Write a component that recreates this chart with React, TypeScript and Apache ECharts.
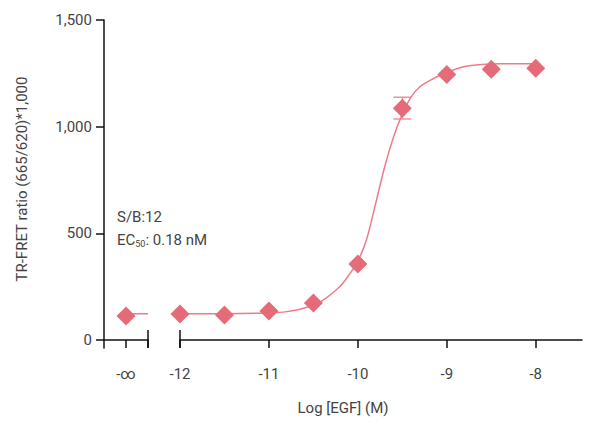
import React, { useEffect, useRef } from "react";
import * as echarts from "echarts";

// ---- data ----
const yTicks = [0, 500, 1000, 1500];
const xTicks = [-12, -11, -10, -9, -8];
const zeroDoseLabel = "-∞";
const zeroDosePos = 1; // position on the short broken segment (0..2)
const zeroDoseMean = 112;
const zeroDoseFit = 123;

const logConc = [-12, -11.5, -11, -10.5, -10, -9.5, -9, -8.5, -8];
const ratioMean = [122, 117, 136, 173, 356, 1086, 1244, 1269, 1274];

const errX = [-9.5];
const errLow = [1036];
const errHigh = [1138];

const fitX = [-12, -11.5, -11, -10.8, -10.6, -10.4, -10.2, -10.1, -10.0, -9.9, -9.8, -9.7, -9.6, -9.5, -9.4, -9.3, -9.2, -9.0, -8.8, -8.6, -8.4, -8.0];
const fitY = [123, 123, 127, 133, 150, 185, 252, 305, 370, 475, 640, 810, 950, 1060, 1140, 1188, 1215, 1254, 1282, 1292, 1295, 1295];

const FONT = "Roboto, 'DejaVu Sans', sans-serif";
const TXT = "#444";
const AX = "#111";
const MARK = "#e46c78";
const LINE = "#ec7d88";
const ERR = "#ee929b";

export default function App() {
  const ref = useRef<HTMLDivElement>(null);
  useEffect(() => {
    if (!ref.current) return;
    const chart = echarts.init(ref.current, undefined, { renderer: "svg" });
    const axisLine = { show: true, onZero: true, lineStyle: { color: AX, width: 1.5 } };
    const tickStyle = { color: AX, width: 1.5 };
    const labelStyle = { color: TXT, fontSize: 15, fontFamily: FONT };
    const breakLine = (x: number) => ({
      silent: true,
      symbol: "none",
      label: { show: false },
      lineStyle: { color: AX, width: 1.5, type: "solid" },
      data: [[{ coord: [x, -37.5] }, { coord: [x, 47] }]],
    });
    chart.setOption({
      animation: false,
      grid: [
        { left: 104, width: 44, top: 20, bottom: 82 },
        { left: 180, right: 18, top: 20, bottom: 82 },
      ],
      xAxis: [
        {
          gridIndex: 0, type: "value", min: 0, max: 2,
          axisLine, splitLine: { show: false },
          axisTick: { show: true, customValues: [zeroDosePos, 2], length: 8, lineStyle: tickStyle },
          axisLabel: { ...labelStyle, customValues: [zeroDosePos], formatter: () => zeroDoseLabel, margin: 18 },
        },
        {
          gridIndex: 1, type: "value", min: -12, max: -7.48,
          axisLine, splitLine: { show: false },
          axisTick: { show: true, customValues: xTicks, length: 8, lineStyle: tickStyle },
          axisLabel: { ...labelStyle, customValues: xTicks, formatter: (v: number) => String(v), margin: 18 },
        },
      ],
      yAxis: [
        {
          gridIndex: 0, type: "value", min: -37.5, max: 1500,
          axisLine, splitLine: { show: false },
          axisTick: { show: true, customValues: yTicks, length: 8, lineStyle: tickStyle },
          axisLabel: { ...labelStyle, customValues: yTicks, margin: 12, formatter: (v: number) => v.toLocaleString("en-US") },
        },
        { gridIndex: 1, type: "value", min: -37.5, max: 1500, show: false },
      ],
      graphic: [
        {
          type: "text", x: 22, y: 179, rotation: Math.PI / 2,
          style: { text: "TR-FRET ratio (665/620)*1,000", fill: TXT, fontSize: 15, fontFamily: FONT, align: "center", verticalAlign: "middle" },
        },
        {
          type: "text", x: 343, y: 408,
          style: { text: "Log [EGF] (M)", fill: TXT, fontSize: 15, fontFamily: FONT, align: "center", verticalAlign: "middle" },
        },
        {
          type: "text", x: 117, y: 217,
          style: { text: "S/B:12", fill: TXT, fontSize: 15, fontFamily: FONT, verticalAlign: "middle" },
        },
        {
          type: "text", x: 117, y: 240,
          style: {
            text: "EC{sub|50}: 0.18 nM", fill: TXT, fontSize: 15, fontFamily: FONT, verticalAlign: "middle",
            rich: { sub: { fontSize: 9, fill: TXT, fontFamily: FONT, padding: [8, 0, 0, 0] } },
          },
        },
      ],
      series: [
        {
          type: "line", xAxisIndex: 0, yAxisIndex: 0, showSymbol: false, silent: true,
          data: [[zeroDosePos, zeroDoseFit], [2, zeroDoseFit]],
          lineStyle: { color: LINE, width: 1.5 },
          markLine: breakLine(2),
        },
        {
          type: "line", xAxisIndex: 1, yAxisIndex: 1, showSymbol: false, silent: true, smooth: 0.3,
          data: fitX.map((x, i) => [x, fitY[i]]),
          lineStyle: { color: LINE, width: 1.5 },
          markLine: breakLine(-12),
        },
        {
          type: "custom", xAxisIndex: 1, yAxisIndex: 1, z: 3,
          data: errX.map((x, i) => [x, errLow[i], errHigh[i]]),
          renderItem: (params: any, api: any) => {
            const x = api.value(0);
            const lo = api.coord([x, api.value(1)]);
            const hi = api.coord([x, api.value(2)]);
            const hw = 9;
            const st = { stroke: ERR, lineWidth: 1.5 };
            return {
              type: "group",
              children: [
                { type: "line", shape: { x1: lo[0], y1: lo[1], x2: hi[0], y2: hi[1] }, style: st },
                { type: "line", shape: { x1: lo[0] - hw, y1: lo[1], x2: lo[0] + hw, y2: lo[1] }, style: st },
                { type: "line", shape: { x1: hi[0] - hw, y1: hi[1], x2: hi[0] + hw, y2: hi[1] }, style: st },
              ],
            };
          },
        },
        {
          type: "scatter", xAxisIndex: 0, yAxisIndex: 0, symbol: "diamond", symbolSize: 19, z: 5,
          itemStyle: { color: MARK, opacity: 1 },
          data: [[zeroDosePos, zeroDoseMean]],
        },
        {
          type: "scatter", xAxisIndex: 1, yAxisIndex: 1, symbol: "diamond", symbolSize: 19, z: 5,
          itemStyle: { color: MARK, opacity: 1 },
          data: logConc.map((x, i) => [x, ratioMean[i]]),
        },
      ],
    });
    return () => chart.dispose();
  }, []);
  return (
    <div
      ref={ref}
      style={{ position: "fixed", left: 0, top: 0, width: 600, height: 430, background: "#fff" }}
    />
  );
}
